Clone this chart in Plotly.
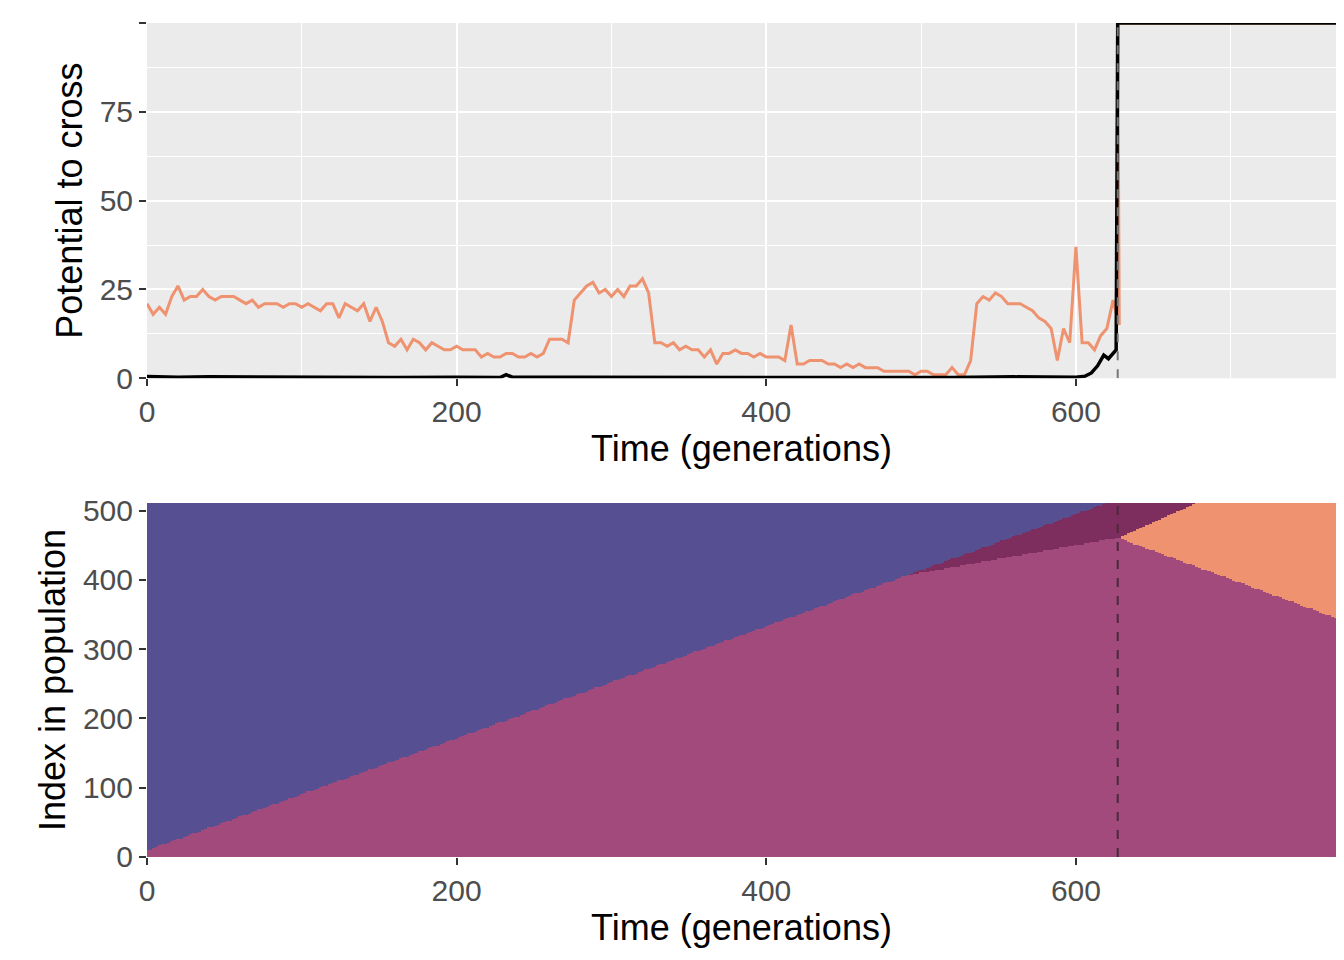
import numpy as np
import plotly.graph_objects as go
from plotly.subplots import make_subplots

# top panel: potential to cross (orange sampled every 4 generations, then the jump)
orange_vals = [21, 18, 20, 18, 23, 26, 22, 23, 23, 25, 23, 22, 23, 23, 23, 22, 21, 22, 20, 21,
               21, 21, 20, 21, 21, 20, 21, 20, 19, 21, 21, 17, 21, 20, 19, 21, 16, 20, 16, 10,
               9, 11, 8, 11, 10, 8, 10, 9, 8, 8, 9, 8, 8, 8, 6, 7, 6, 6, 7, 7,
               6, 6, 7, 6, 7, 11, 11, 11, 10, 22, 24, 26, 27, 24, 25, 23, 25, 23, 26, 26,
               28, 24, 10, 10, 9, 10, 8, 9, 8, 8, 6, 8, 4, 7, 7, 8, 7, 7, 6, 7,
               6, 6, 6, 5, 15, 4, 4, 5, 5, 5, 4, 4, 3, 4, 3, 4, 3, 3, 3, 2,
               2, 2, 2, 2, 1, 2, 2, 1, 1, 1, 3, 1, 1, 5, 21, 23, 22, 24, 23, 21,
               21, 21, 20, 19, 17, 16, 14, 5, 14, 10, 37, 10, 10, 8, 12, 14, 22, 15]
orange_x = [4 * i for i in range(len(orange_vals))] + [627, 768]
orange_y = orange_vals + [100, 100]
black_x = [0, 20, 40, 80, 120, 160, 200, 228, 232, 236, 280, 360, 440, 520, 560, 600,
           606, 610, 614, 618, 621, 624, 626, 627, 768]
black_y = [0.5, 0.3, 0.4, 0.3, 0.4, 0.2, 0.3, 0.2, 1.0, 0.3, 0.3, 0.2, 0.3, 0.2, 0.4, 0.3,
           0.6, 1.5, 3.5, 6.5, 5.5, 7, 8, 100, 100]
cross_gen = 627

# bottom panel: population structure, region boundaries (gen, index)
blue_edge = ([0, 620], [10, 511])
dark_edge = ([490, 627], [406, 461])
orange_top = ([627, 679], [461, 511])
orange_bottom = ([627, 768], [461, 345])
region_colors = ["#565093", "#A34A7C", "#7E2E5E", "#EE9270"]

gx = np.arange(0, 769, 2)
gy = np.arange(0, 512, 2)
X, Y = np.meshgrid(gx, gy)
z = np.ones_like(X, dtype=float)
bb = np.interp(X, *blue_edge)
db = np.interp(X, *dark_edge, left=1e9)
z[(Y >= db)] = 2
z[Y > bb] = 0
ot = np.interp(X, *orange_top, left=1e9, right=1e9)
ob = np.interp(X, *orange_bottom, left=1e9)
orange_mask = (X >= cross_gen) & (Y >= ob) & ((Y <= ot) | (X > orange_top[0][1]))
z[orange_mask] = 3

cs = []
for i, c in enumerate(region_colors):
    cs += [[i / 4, c], [(i + 1) / 4, c]]

fig = make_subplots(rows=2, cols=1, vertical_spacing=0.15)
fig.add_trace(go.Scatter(x=orange_x, y=orange_y, mode="lines",
                         line=dict(color="#EE9270", width=3)), row=1, col=1)
fig.add_trace(go.Scatter(x=black_x, y=black_y, mode="lines",
                         line=dict(color="black", width=3.5)), row=1, col=1)
fig.add_trace(go.Heatmap(x=gx, y=gy, z=z, colorscale=cs, zmin=0, zmax=4,
                         showscale=False, zsmooth=False), row=2, col=1)

fig.add_shape(type="line", x0=cross_gen, x1=cross_gen, y0=0, y1=100, xref="x", yref="y",
              line=dict(color="#777777", width=2, dash="dash"))
fig.add_shape(type="line", x0=cross_gen, x1=cross_gen, y0=0, y1=511, xref="x2", yref="y2",
              line=dict(color="#4A2A3A", width=2, dash="dash"))

tickfont = dict(size=30, color="#4D4D4D")
titlefont = dict(size=36, color="black")
ax = dict(ticks="outside", ticklen=7, tickwidth=1.5, tickcolor="#333333", tickfont=tickfont,
          showline=False, zeroline=False, automargin=False)
fig.update_xaxes(**ax, range=[0, 768], tickvals=[0, 200, 400, 600],
                 title=dict(text="Time (generations)", font=titlefont, standoff=6))
fig.update_yaxes(**ax)
fig.update_xaxes(row=1, col=1, gridcolor="white", gridwidth=2,
                 minor=dict(tickvals=[100, 300, 500, 700], showgrid=True, gridcolor="white", gridwidth=1, ticks=""))
fig.update_yaxes(row=1, col=1, range=[0, 100], tickvals=[0, 25, 50, 75, 100],
                 gridcolor="white", gridwidth=2,
                 minor=dict(tickvals=[12.5, 37.5, 62.5, 87.5], showgrid=True, gridcolor="white", gridwidth=1, ticks=""),
                 title=dict(text="Potential to cross", font=titlefont, standoff=6))
fig.update_xaxes(row=2, col=1, showgrid=False)
fig.update_yaxes(row=2, col=1, range=[0, 511], tickvals=[0, 100, 200, 300, 400, 500], showgrid=False,
                 title=dict(text="Index in population", font=titlefont, standoff=6))

fig.update_layout(width=1344, height=960, showlegend=False,
                  margin=dict(l=139, r=16, t=15, b=111),
                  plot_bgcolor="#EBEBEB", paper_bgcolor="white",
                  font=dict(family="Liberation Sans, Arial, sans-serif"))
fig.update_layout(yaxis=dict(domain=[0.574, 1.0]), yaxis2=dict(domain=[0.0, 0.4245]))
fig.write_html("out.html")
